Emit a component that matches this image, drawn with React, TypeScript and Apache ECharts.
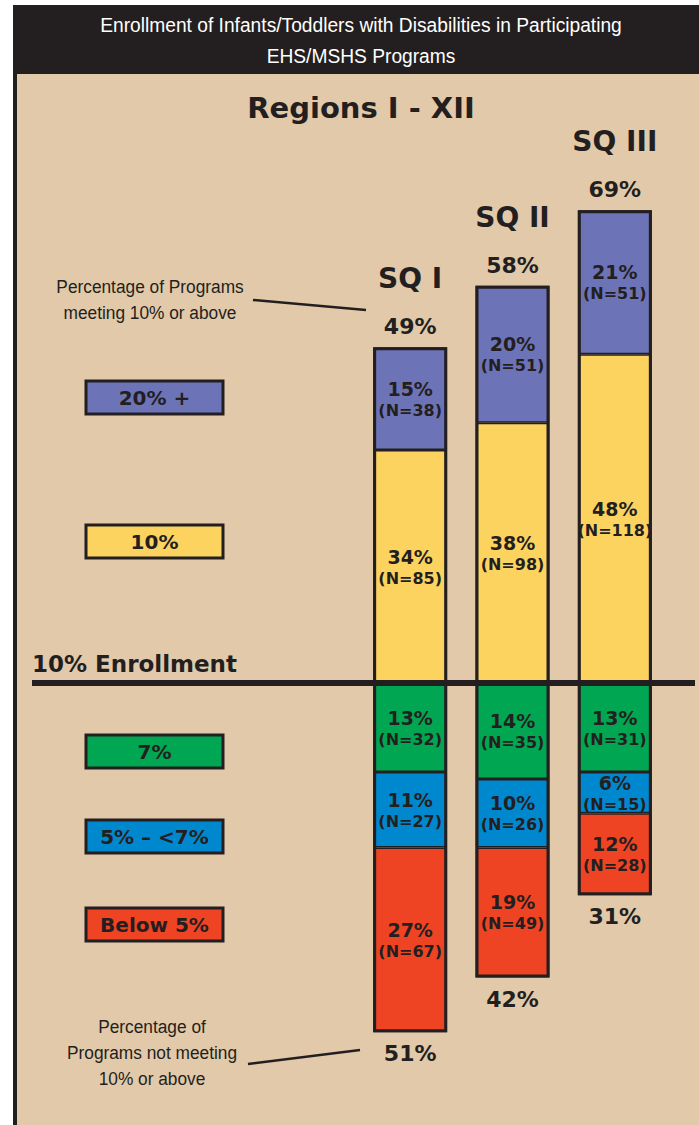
import React, { useEffect, useRef } from 'react';
import * as echarts from 'echarts';

const categories = ['SQ I', 'SQ II', 'SQ III'];
const above20 = [15, 20, 21];
const above20N = [38, 51, 51];
const at10 = [34, 38, 48];
const at10N = [85, 98, 118];
const at7 = [13, 14, 13];
const at7N = [32, 35, 31];
const at5to7 = [11, 10, 6];
const at5to7N = [27, 26, 15];
const below5 = [27, 19, 12];
const below5N = [67, 49, 28];
const meetingTotals = [49, 58, 69];
const notMeetingTotals = [51, 42, 31];
const legendNames = ['20% +', '10%', '7%', '5% – <7%', 'Below 5%'];

const INK = '#231f20';
const TAN = '#e2c9a9';
const COLORS = ['#6d73b7', '#fdd35f', '#00a651', '#0088cf', '#ef4423'];
const BOLD = "'DejaVu Sans', Verdana, sans-serif";
const PLAIN = "'Liberation Sans', Arial, Helvetica, sans-serif";

// stacked heights (sum of the drawn segments) used for outlines and label anchors
const posStack = categories.map((_, i) => above20[i] + at10[i]);
const negStack = categories.map((_, i) => at7[i] + at5to7[i] + below5[i]);

function segLabel(counts: number[]) {
  return {
    show: true,
    position: 'inside',
    formatter: (p: any) => `{p|${Math.abs(p.value)}%}\n{n|(N=${counts[p.dataIndex]})}`,
    rich: {
      p: { fontFamily: BOLD, fontWeight: 'bold', fontSize: 19, color: INK, lineHeight: 23 },
      n: { fontFamily: BOLD, fontWeight: 'bold', fontSize: 16, color: INK, lineHeight: 20 },
    },
  };
}

function barSeries(name: string, values: number[], counts: number[], color: string, sign: number) {
  return {
    name,
    type: 'bar',
    stack: 'total',
    barWidth: 74,
    barGap: '-100%',
    data: values.map((v) => v * sign),
    itemStyle: { color, borderColor: INK, borderWidth: 1.5 },
    label: segLabel(counts),
  };
}

function outlineSeries(values: number[], sign: number) {
  return {
    type: 'bar',
    stack: 'outline',
    barWidth: 74,
    barGap: '-100%',
    silent: true,
    data: values.map((v) => v * sign),
    itemStyle: { color: 'rgba(0,0,0,0)', borderColor: INK, borderWidth: 3 },
    z: 3,
  };
}

export default function App() {
  const ref = useRef<HTMLDivElement>(null);
  useEffect(() => {
    document.body.style.margin = '0';
    const chart = echarts.init(ref.current!, null, { renderer: 'svg' });
    chart.setOption({
      animation: false,
      backgroundColor: '#ffffff',
      grid: { left: 359, right: 33, top: 135, bottom: 31 },
      xAxis: { type: 'category', data: categories, show: false },
      yAxis: { type: 'value', min: -60, max: 80, show: false },
      series: [
        barSeries('10%', at10, at10N, COLORS[1], 1),
        barSeries('20% +', above20, above20N, COLORS[0], 1),
        barSeries('7%', at7, at7N, COLORS[2], -1),
        barSeries('5% – <7%', at5to7, at5to7N, COLORS[3], -1),
        barSeries('Below 5%', below5, below5N, COLORS[4], -1),
        outlineSeries(posStack, 1),
        outlineSeries(negStack, -1),
        {
          type: 'scatter',
          symbolSize: 1,
          itemStyle: { color: 'rgba(0,0,0,0)', opacity: 1 },
          data: posStack.map((v, i) => [categories[i], v]),
          label: {
            show: true,
            position: 'top',
            distance: 7,
            formatter: (p: any) => `{s|${categories[p.dataIndex]}}\n{t|${meetingTotals[p.dataIndex]}%}`,
            rich: {
              s: { fontFamily: BOLD, fontWeight: 'bold', fontSize: 28, color: INK, lineHeight: 70 },
              t: { fontFamily: BOLD, fontWeight: 'bold', fontSize: 22, color: INK, lineHeight: 26 },
            },
          },
          z: 5,
        },
        {
          type: 'scatter',
          symbolSize: 1,
          itemStyle: { color: 'rgba(0,0,0,0)', opacity: 1 },
          data: negStack.map((v, i) => [categories[i], -v]),
          label: {
            show: true,
            position: 'bottom',
            distance: 8,
            formatter: (p: any) => `${notMeetingTotals[p.dataIndex]}%`,
            fontFamily: BOLD,
            fontWeight: 'bold',
            fontSize: 22,
            color: INK,
            lineHeight: 26,
          },
          z: 5,
        },
      ],
    });

    const y0 = chart.convertToPixel({ yAxisIndex: 0 }, 0) as number;
    const legendY = [381, 525, 735, 820, 908];
    const graphic: any[] = [
      { type: 'rect', z: -10, shape: { x: 13, y: 5, width: 686, height: 70 }, style: { fill: INK } },
      { type: 'rect', z: -10, shape: { x: 17, y: 74, width: 682, height: 1051 }, style: { fill: TAN } },
      { type: 'rect', z: -10, shape: { x: 13, y: 74, width: 4, height: 1051 }, style: { fill: INK } },
      {
        type: 'text', z: 50, x: 361, y: 25, scaleX: 0.96,
        style: { text: 'Enrollment of Infants/Toddlers with Disabilities in Participating', fill: '#ffffff', font: `20px ${PLAIN}`, textAlign: 'center', textVerticalAlign: 'middle' },
      },
      {
        type: 'text', z: 50, x: 361, y: 56, scaleX: 0.96,
        style: { text: 'EHS/MSHS Programs', fill: '#ffffff', font: `20px ${PLAIN}`, textAlign: 'center', textVerticalAlign: 'middle' },
      },
      {
        type: 'text', z: 50, x: 361, y: 108,
        style: { text: 'Regions I - XII', fill: INK, font: `bold 29px ${BOLD}`, textAlign: 'center', textVerticalAlign: 'middle' },
      },
      {
        type: 'text', z: 50, x: 150, y: 300, scaleX: 0.91,
        style: { text: 'Percentage of Programs\nmeeting 10% or above', fill: INK, font: `19px ${PLAIN}`, lineHeight: 26, textAlign: 'center', textVerticalAlign: 'middle' },
      },
      {
        type: 'text', z: 50, x: 152, y: 1053, scaleX: 0.91,
        style: { text: 'Percentage of\nPrograms not meeting\n10% or above', fill: INK, font: `19px ${PLAIN}`, lineHeight: 26, textAlign: 'center', textVerticalAlign: 'middle' },
      },
      { type: 'line', z: 50, shape: { x1: 253, y1: 300, x2: 366, y2: 310 }, style: { stroke: INK, lineWidth: 2.5 } },
      { type: 'line', z: 50, shape: { x1: 248, y1: 1064, x2: 360, y2: 1050 }, style: { stroke: INK, lineWidth: 2.5 } },
      {
        type: 'text', z: 50, x: 32, y: y0 - 19,
        style: { text: '10% Enrollment', fill: INK, font: `bold 23px ${BOLD}`, textAlign: 'left', textVerticalAlign: 'middle' },
      },
      { type: 'rect', z: 60, shape: { x: 32, y: y0 - 3, width: 663, height: 6 }, style: { fill: INK } },
    ];
    legendNames.forEach((name, i) => {
      graphic.push({
        type: 'rect', z: 50,
        shape: { x: 86, y: legendY[i], width: 137, height: 33 },
        style: { fill: COLORS[i], stroke: INK, lineWidth: 3 },
      });
      graphic.push({
        type: 'text', z: 51, x: 154.5, y: legendY[i] + 17,
        style: { text: name, fill: INK, font: `bold 20px ${BOLD}`, textAlign: 'center', textVerticalAlign: 'middle' },
      });
    });
    chart.setOption({ graphic });
    return () => chart.dispose();
  }, []);
  return <div ref={ref} style={{ width: 699, height: 1125 }} />;
}
